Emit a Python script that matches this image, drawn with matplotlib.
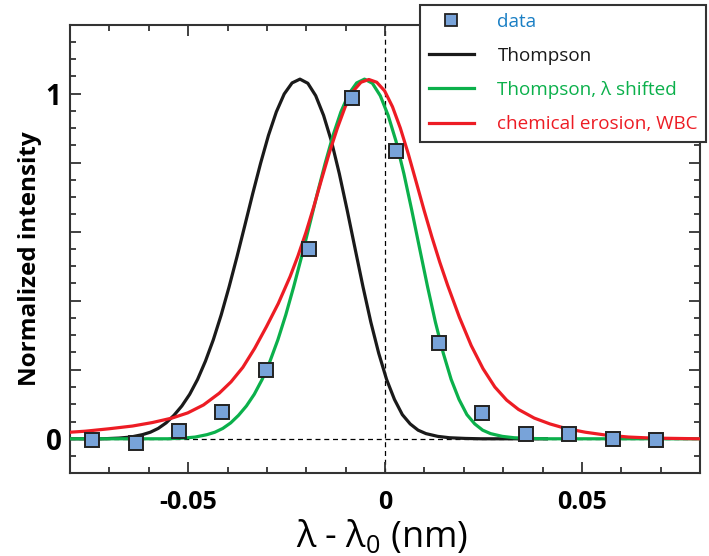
import numpy as np
import matplotlib
matplotlib.use('Agg')
import matplotlib.pyplot as plt
from matplotlib.lines import Line2D
from matplotlib.ticker import MultipleLocator, FixedLocator, FuncFormatter

plt.rcParams['font.family'] = ['Open Sans', 'DejaVu Sans']
plt.rcParams['mathtext.fontset'] = 'custom'
plt.rcParams['mathtext.rm'] = 'Open Sans'
plt.rcParams['mathtext.default'] = 'regular'

# measured spectrum (normalized)
data_x = [-0.0743, -0.0633, -0.0523, -0.0414, -0.0303, -0.0193, -0.0083,
          0.0027, 0.0137, 0.0246, 0.0358, 0.0468, 0.0578, 0.0688]
data_y = [-0.003, -0.013, 0.024, 0.077, 0.199, 0.551, 0.987,
          0.834, 0.278, 0.075, 0.015, 0.013, 0.000, -0.003]

# Thompson profile
thomp_x = [-0.0800, -0.0716, -0.0676, -0.0646, -0.0616, -0.0596, -0.0576, -0.0556,
           -0.0536, -0.0516, -0.0496, -0.0476, -0.0456, -0.0436, -0.0416, -0.0396,
           -0.0376, -0.0356, -0.0336, -0.0316, -0.0296, -0.0276, -0.0256, -0.0236,
           -0.0216, -0.0196, -0.0176, -0.0156, -0.0136, -0.0116, -0.0096, -0.0076,
           -0.0056, -0.0036, -0.0016, 0.0004, 0.0024, 0.0044, 0.0064, 0.0084,
           0.0104, 0.0134, 0.0164, 0.0204, 0.0244, 0.0410]
thomp_y = [0.000, 0.000, 0.002, 0.005, 0.012, 0.019, 0.030, 0.046,
           0.068, 0.095, 0.129, 0.172, 0.225, 0.287, 0.359, 0.440,
           0.527, 0.618, 0.710, 0.798, 0.879, 0.947, 0.999, 1.031,
           1.042, 1.030, 0.994, 0.937, 0.862, 0.768, 0.662, 0.551,
           0.441, 0.338, 0.248, 0.172, 0.114, 0.070, 0.043, 0.025,
           0.015, 0.007, 0.003, 0.001, 0.000, 0.000]

# Thompson, lambda shifted
shift_x = [-0.0800, -0.0552, -0.0512, -0.0482, -0.0452, -0.0432, -0.0412, -0.0392,
           -0.0372, -0.0352, -0.0332, -0.0312, -0.0292, -0.0272, -0.0252, -0.0232,
           -0.0212, -0.0192, -0.0172, -0.0152, -0.0132, -0.0112, -0.0092, -0.0072,
           -0.0052, -0.0032, -0.0012, 0.0008, 0.0028, 0.0048, 0.0068, 0.0088,
           0.0108, 0.0128, 0.0148, 0.0168, 0.0188, 0.0208, 0.0228, 0.0248,
           0.0268, 0.0298, 0.0328, 0.0368, 0.0408, 0.0800]
shift_y = [0.000, 0.000, 0.002, 0.005, 0.012, 0.019, 0.030, 0.046,
           0.068, 0.095, 0.129, 0.172, 0.225, 0.287, 0.359, 0.440,
           0.527, 0.618, 0.710, 0.798, 0.879, 0.947, 0.999, 1.031,
           1.042, 1.030, 0.994, 0.937, 0.862, 0.768, 0.662, 0.551,
           0.441, 0.338, 0.248, 0.172, 0.114, 0.070, 0.043, 0.025,
           0.015, 0.007, 0.003, 0.001, 0.000, 0.000]

# chemical erosion, WBC
wbc_x = [-0.0800, -0.0761, -0.0701, -0.0641, -0.0591, -0.0541, -0.0501, -0.0461,
         -0.0421, -0.0391, -0.0361, -0.0331, -0.0301, -0.0271, -0.0241, -0.0221,
         -0.0201, -0.0181, -0.0161, -0.0141, -0.0121, -0.0101, -0.0081, -0.0061,
         -0.0041, -0.0021, -0.0001, 0.0019, 0.0039, 0.0059, 0.0079, 0.0099,
         0.0119, 0.0139, 0.0159, 0.0189, 0.0219, 0.0249, 0.0279, 0.0309,
         0.0339, 0.0379, 0.0419, 0.0459, 0.0509, 0.0559, 0.0619, 0.0679, 0.0800]
wbc_y = [0.019, 0.022, 0.029, 0.037, 0.047, 0.060, 0.075, 0.098,
         0.132, 0.165, 0.207, 0.262, 0.325, 0.392, 0.470, 0.530,
         0.597, 0.672, 0.752, 0.830, 0.900, 0.962, 1.007, 1.033,
         1.041, 1.033, 1.008, 0.962, 0.900, 0.826, 0.745, 0.663,
         0.585, 0.512, 0.445, 0.352, 0.270, 0.203, 0.150, 0.112,
         0.085, 0.060, 0.043, 0.030, 0.019, 0.011, 0.005, 0.002, 0.000]

black = '#1a1a1a'
green = '#0bb04b'
red = '#ed1c24'
blue = '#78a3d9'

fig = plt.figure(figsize=(7.09, 5.56), dpi=100)
ax = fig.add_axes([70/709, 1-473.3/556, 630/709, 448.7/556])

ax.axhline(0, color='black', lw=0.9, ls=(0, (4, 3)), zorder=1)
ax.axvline(0, color='black', lw=0.9, ls=(0, (4, 3)), zorder=1)

ax.plot(thomp_x, thomp_y, color=black, lw=2.3, zorder=2)
ax.plot(shift_x, shift_y, color=green, lw=2.3, zorder=3)
ax.plot(wbc_x, wbc_y, color=red, lw=2.3, zorder=4)
ax.plot(data_x, data_y, ls='none', marker='s', ms=10.5, mfc=blue,
        mec='#222222', mew=1.4, zorder=5)

ax.set_xlim(-0.08, 0.08)
ax.set_ylim(-0.1, 1.2)

ax.xaxis.set_major_locator(FixedLocator([-0.05, 0, 0.05]))
ax.xaxis.set_minor_locator(MultipleLocator(0.01))
ax.xaxis.set_major_formatter(FuncFormatter(lambda v, p: {-0.05: '-0.05', 0: '0', 0.05: '0.05'}.get(round(v, 2), '')))
ax.yaxis.set_major_locator(FixedLocator([0, 0.2, 0.4, 0.6, 0.8, 1.0]))
ax.yaxis.set_minor_locator(MultipleLocator(0.05))
ax.yaxis.set_major_formatter(FuncFormatter(lambda v, p: {0.0: '0', 1.0: '1'}.get(round(v, 1), '')))

ax.tick_params(which='both', direction='in', top=True, right=True,
               color='#333333', width=1.3)
ax.tick_params(which='major', length=8)
ax.tick_params(which='minor', length=4)
ax.tick_params(axis='x', which='major', pad=12, labelsize=18)
ax.tick_params(axis='y', which='major', pad=6, labelsize=20)
for lab in ax.get_xticklabels() + ax.get_yticklabels():
    lab.set_fontweight('bold')

for sp in ax.spines.values():
    sp.set_color('#333333')
    sp.set_linewidth(1.5)

ax.set_xlabel('λ - λ$_0$ (nm)', fontsize=26)
ax.xaxis.set_label_coords(0.495, -0.10)
ax.xaxis.label.set_va('top')
ax.set_ylabel('Normalized intensity', fontsize=17.5, fontweight='bold')
ax.yaxis.set_label_coords(-0.044, 0.478)

handles = [
    Line2D([], [], ls='none', marker='s', ms=9, mfc=blue, mec='#222222', mew=1.3),
    Line2D([], [], color=black, lw=2.3),
    Line2D([], [], color=green, lw=2.3),
    Line2D([], [], color=red, lw=2.3),
]
labels = ['data', 'Thompson', 'Thompson, λ shifted', 'chemical erosion, WBC']
leg = fig.legend(handles, labels, loc='upper left',
                 bbox_to_anchor=(420/709, 1-4.5/556), borderaxespad=0,
                 fontsize=13.6, frameon=True, fancybox=False,
                 handlelength=2.4, handletextpad=1.25, labelspacing=0.85,
                 borderpad=0.45)
leg.get_frame().set_edgecolor('#333333')
leg.get_frame().set_linewidth(1.5)
leg.get_frame().set_alpha(1)
for t, c in zip(leg.get_texts(), ['#1a7fc4', black, green, red]):
    t.set_color(c)

fig.savefig('out.png', dpi=100)
